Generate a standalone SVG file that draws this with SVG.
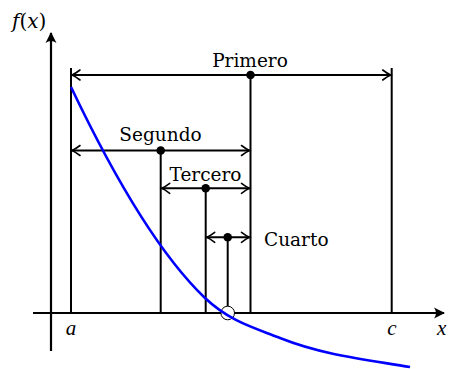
<svg xmlns="http://www.w3.org/2000/svg" width="449" height="369" viewBox="0 0 449 369">
<style>
.ln{stroke:#000;stroke-width:2;fill:none}
.ax{stroke:#000;stroke-width:2.2;fill:none}
.dim{stroke:#000;stroke-width:2;fill:none;marker-start:url(#to);marker-end:url(#to)}
.dot{fill:#000}
.lbl{font-family:"DejaVu Serif","Liberation Serif",serif;font-size:18.5px;fill:#000}
.math{font-family:"Liberation Serif","DejaVu Serif",serif;font-size:21px;font-style:italic;fill:#000}
.fx{font-family:"DejaVu Serif","Liberation Serif",serif;font-size:20px;font-style:italic;fill:#000}
.up{font-style:normal}
</style>
<defs>
<marker id="to" markerUnits="userSpaceOnUse" markerWidth="14" markerHeight="14" viewBox="-10 -7 12 14" refX="0" refY="0" orient="auto-start-reverse">
<path d="M-8,-5 Q-3,-1.2 0,0 Q-3,1.2 -8,5" fill="none" stroke="#000" stroke-width="1.6" stroke-linecap="round"/>
</marker>
<marker id="ah" markerUnits="userSpaceOnUse" markerWidth="16" markerHeight="16" viewBox="-12 -8 14 16" refX="0" refY="0" orient="auto">
<path d="M1,0 L-10,-5.5 Q-6,0 -10,5.5 Z" fill="#000"/>
</marker>
</defs>
<g id="axes">
<line class="ax" x1="51" y1="351" x2="51" y2="33" marker-end="url(#ah)"/>
<line class="ax" x1="33" y1="313" x2="444" y2="313" marker-end="url(#ah)"/>
</g>
<g id="connectors">
<line class="ln" x1="71" y1="68" x2="71" y2="313"/>
<line class="ln" x1="391.7" y1="68" x2="391.7" y2="313"/>
<line class="ln" x1="250.5" y1="75" x2="250.5" y2="313"/>
<line class="ln" x1="160.7" y1="150" x2="160.7" y2="313"/>
<line class="ln" x1="205.7" y1="188" x2="205.7" y2="313"/>
<line class="ln" x1="227.7" y1="237.3" x2="227.7" y2="306"/>
<line class="dim" x1="72" y1="75" x2="390.7" y2="75"/>
<line class="dim" x1="72" y1="150.5" x2="249.5" y2="150.5"/>
<line class="dim" x1="161.7" y1="188.3" x2="249.5" y2="188.3"/>
<line class="dim" x1="206.7" y1="237.3" x2="249.5" y2="237.3"/>
</g>
<g id="primero">
<circle class="dot" cx="250.5" cy="75" r="4.3"/>
<text class="lbl" x="250" y="67" text-anchor="middle">Primero</text>
</g>
<g id="segundo">
<circle class="dot" cx="160.7" cy="150.5" r="4.3"/>
<text class="lbl" x="160.5" y="141" text-anchor="middle">Segundo</text>
</g>
<g id="tercero">
<circle class="dot" cx="205.7" cy="188.3" r="4.3"/>
<text class="lbl" x="205.5" y="181" text-anchor="middle">Tercero</text>
</g>
<g id="cuarto">
<circle class="dot" cx="227.7" cy="237.3" r="4.3"/>
<text class="lbl" x="264" y="246">Cuarto</text>
</g>
<g id="root">
<circle cx="227.7" cy="313" r="6.8" fill="#fff" stroke="#000" stroke-width="1"/>
</g>
<g id="curve">
<path d="M71,87 C116,181.5 160,255 205,298 C230,321.75 255,328 280,338 C323,355.2 367,359.7 410,367" fill="none" stroke="#0000ff" stroke-width="2.6"/>
</g>
<g id="labels">
<text class="fx" x="12" y="28">f<tspan class="up">(</tspan>x<tspan class="up">)</tspan></text>
<text class="math" x="71" y="335" text-anchor="middle">a</text>
<text class="math" x="392" y="335" text-anchor="middle">c</text>
<text class="math" x="437" y="335">x</text>
</g>
</svg>
